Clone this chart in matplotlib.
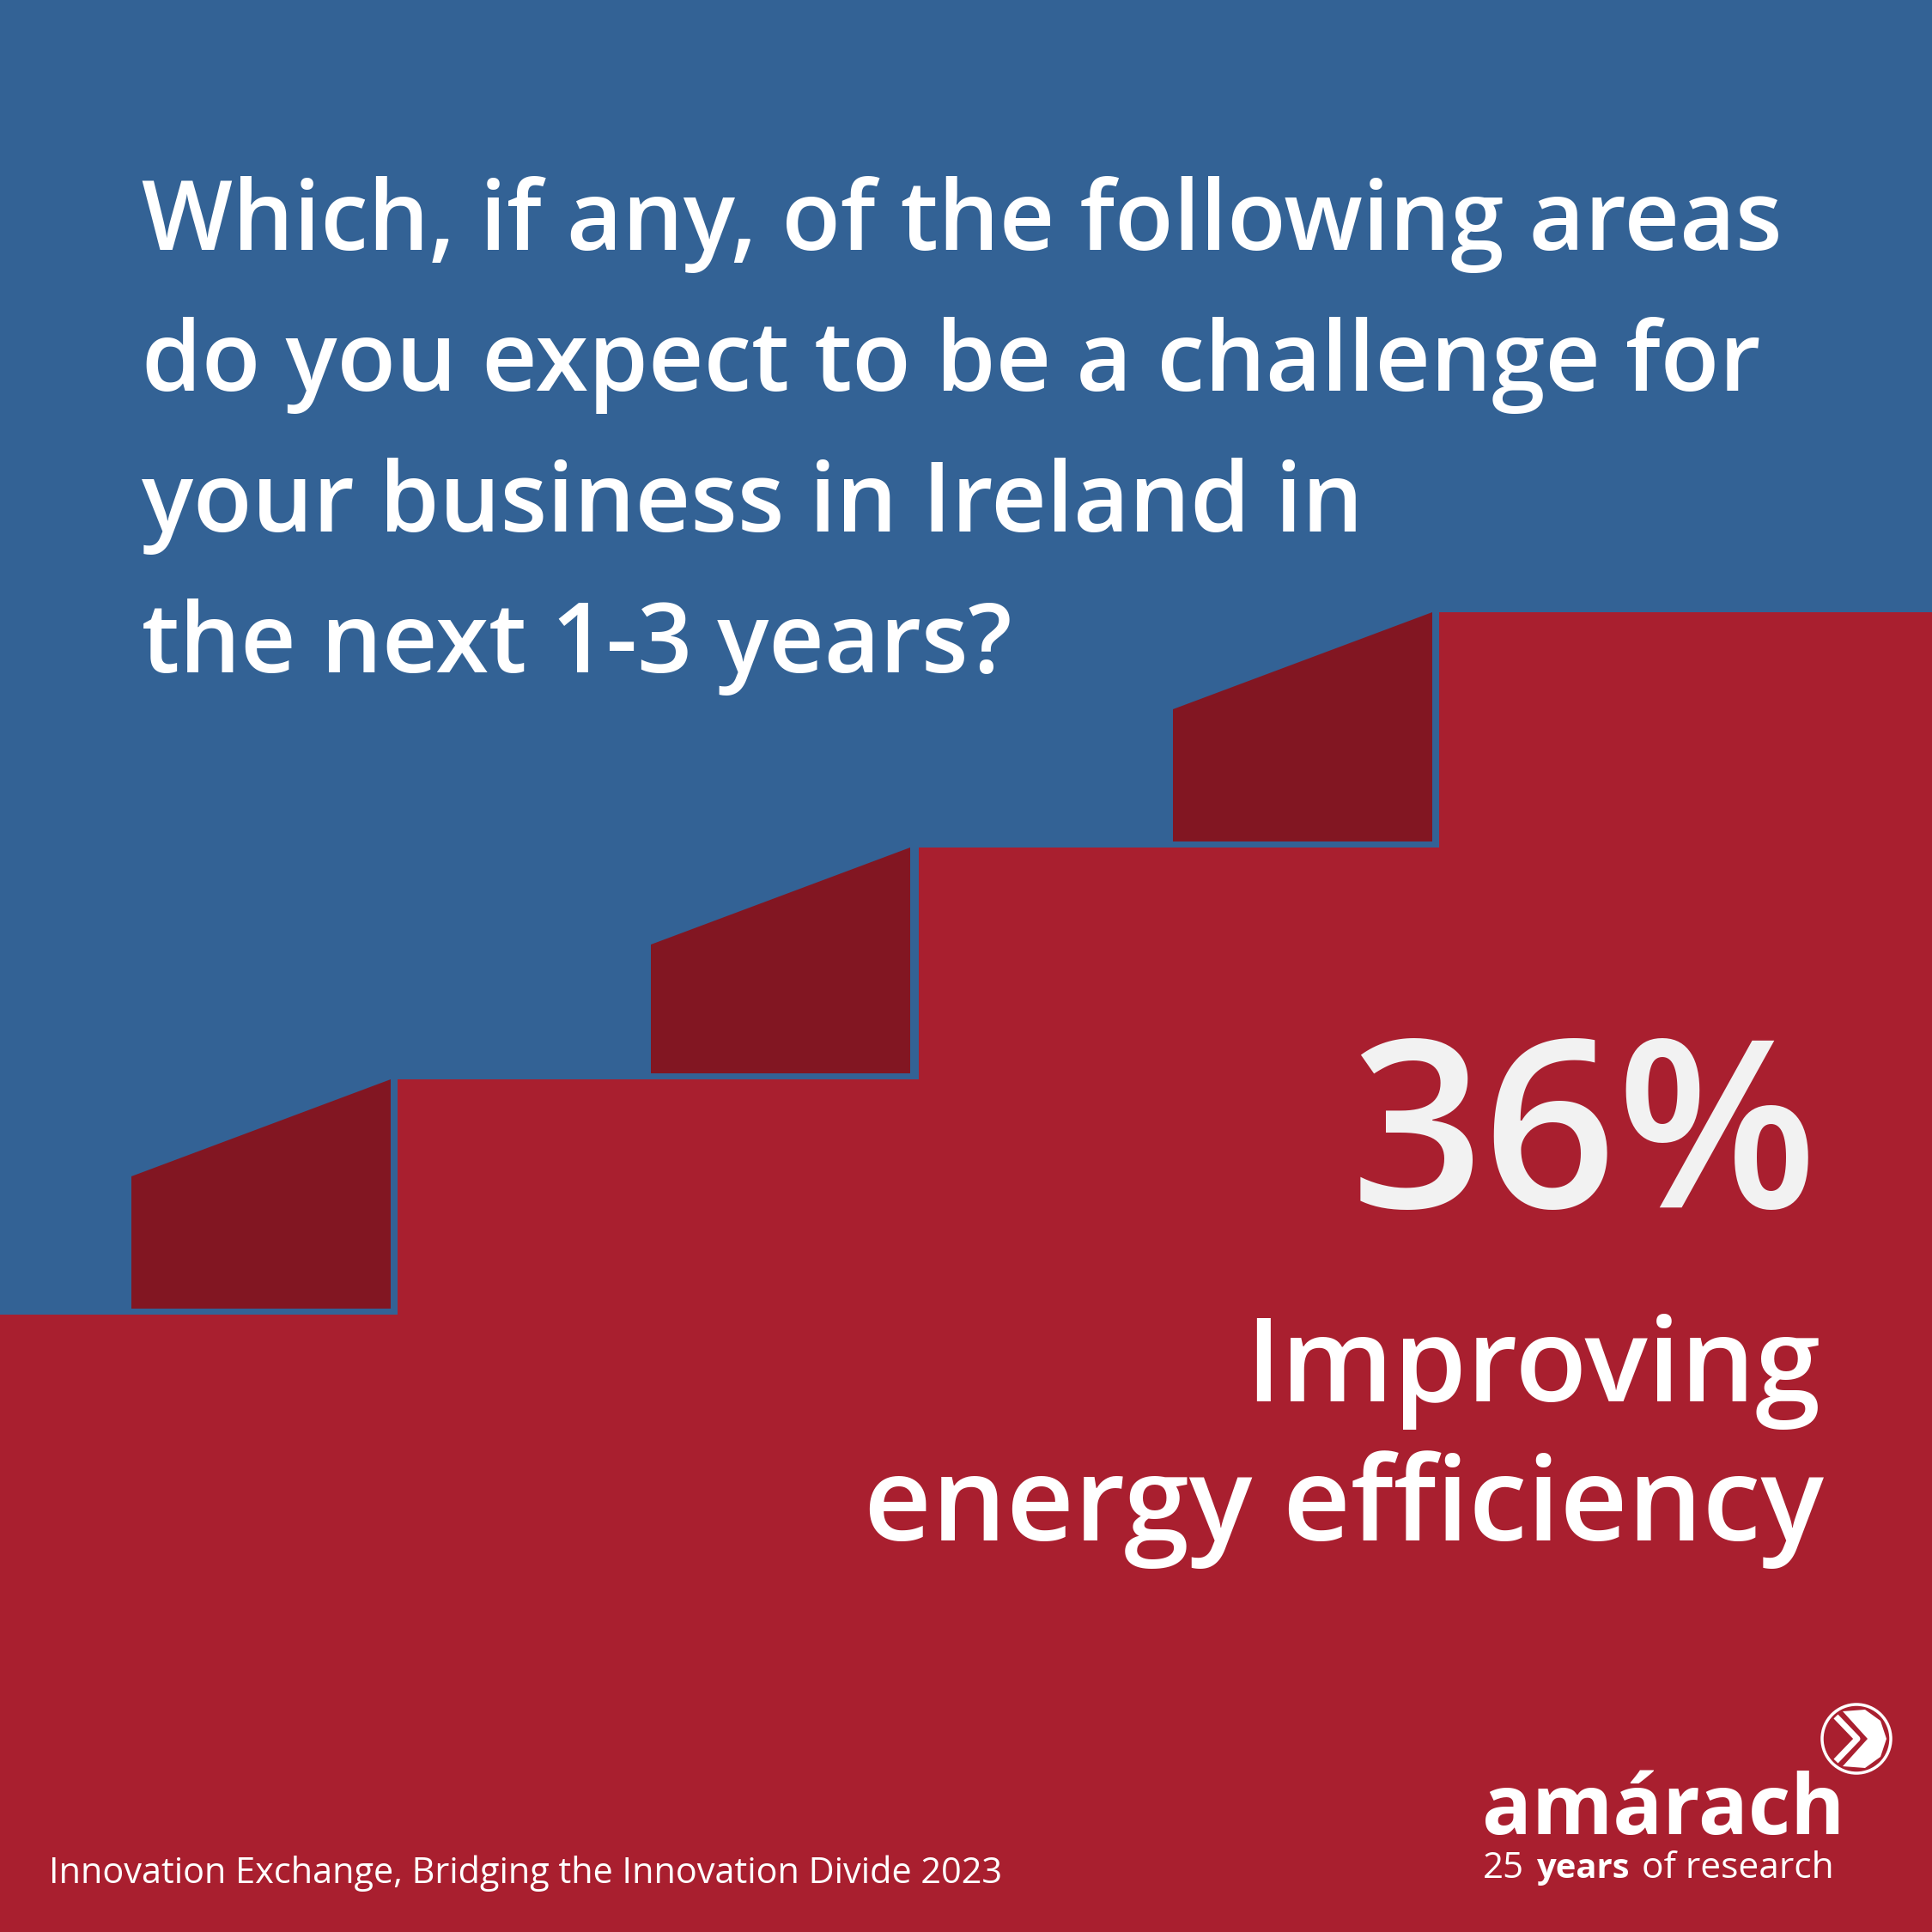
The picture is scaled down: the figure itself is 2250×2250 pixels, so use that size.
import matplotlib
matplotlib.use("Agg")
import matplotlib.pyplot as plt
from matplotlib.patches import Polygon, Circle

# === text content ===
question_lines = [
    "Which, if any, of the following areas",
    "do you expect to be a challenge for",
    "your business in Ireland in",
    "the next 1-3 years?",
]
share_pct = 36
answer_lines = ["Improving", "energy efficiency"]
source_text = "Innovation Exchange, Bridging the Innovation Divide 2023"
brand_name = "amárach"
tagline_parts = ["25", "years", "of research"]

# === colours ===
c_blue = "#336295"
c_red = "#A91F2F"
c_dark = "#821622"
c_num = "#F2F2F2"

# === layout (pixel units, 2250 x 2250 canvas, y down) ===
W = 2250
riser_x = [463, 1070, 1676]
tread_y = [1531, 1257, 987, 713]
block_left = [153, 758, 1366]
block_w = 302
block_gap = 7
block_slope = 113

plt.rcParams["font.family"] = ["Open Sans", "DejaVu Sans"]
PT = 0.72  # px -> pt at dpi 100

fig = plt.figure(figsize=(22.5, 22.5), dpi=100)
ax = fig.add_axes([0, 0, 1, 1])
ax.set_xlim(0, W)
ax.set_ylim(W, 0)
ax.axis("off")
ax.add_patch(Polygon([(0, 0), (W, 0), (W, W), (0, W)], closed=True, fc=c_blue, ec="none"))

# red staircase
pts = [(0, W), (0, tread_y[0])]
for i, rx in enumerate(riser_x):
    pts.append((rx, tread_y[i]))
    pts.append((rx, tread_y[i + 1]))
pts += [(W, tread_y[-1]), (W, W)]
ax.add_patch(Polygon(pts, closed=True, fc=c_red, ec="none"))

# dark blocks sitting on each tread
for i, bl in enumerate(block_left):
    br = bl + block_w
    bottom = tread_y[i] - block_gap
    top_r = tread_y[i + 1]
    top_l = top_r + block_slope
    ax.add_patch(Polygon([(bl, bottom), (br, bottom), (br, top_r), (bl, top_l)],
                         closed=True, fc=c_dark, ec="none"))

# question
for i, line in enumerate(question_lines):
    ax.text(165, 291 + i * 164, line, color="white", fontsize=112 * PT,
            fontweight="semibold", ha="left", va="baseline")

# headline number and answer
ax.text(2117, 1406, f"{share_pct}%", color=c_num, fontsize=272 * PT,
        fontweight="semibold", ha="right", va="baseline")
ax.text(2120, 1632, answer_lines[0], color="white", fontsize=137 * PT,
        fontweight="semibold", ha="right", va="baseline")
ax.text(2124, 1794, answer_lines[1], color="white", fontsize=137 * PT,
        fontweight="semibold", ha="right", va="baseline")

# source
ax.text(57, 2193, source_text, color="white", fontsize=41.5 * PT,
        ha="left", va="baseline")

# logo
ax.text(1726, 2136, brand_name, color="white", fontsize=96 * PT,
        fontweight="bold", ha="left", va="baseline")
ax.text(1727, 2187, tagline_parts[0], color="white", fontsize=42 * PT,
        ha="left", va="baseline")
ax.text(1790, 2187, tagline_parts[1], color="white", fontsize=40 * PT,
        fontweight="bold", ha="left", va="baseline")
ax.text(2136, 2187, tagline_parts[2], color="white", fontsize=42.5 * PT,
        ha="right", va="baseline")

cx, cy = 2162, 2025
ax.add_patch(Circle((cx, cy), 40, fc="none", ec="white", lw=3.5 * PT))
ax.add_patch(Polygon([(cx - 16, cy - 32), (cx + 13, cy), (cx - 16, cy + 32),
                      (cx + 10, cy + 34), (cx + 28, cy + 21), (cx + 35, cy),
                      (cx + 28, cy - 21), (cx + 10, cy - 34)],
                     closed=True, fc="white", ec="none"))
ax.plot([cx - 24, cx + 1, cx - 24], [cy - 26, cy, cy + 26], color="white",
        lw=7 * PT, solid_capstyle="butt")

fig.savefig("out.png", dpi=100)
